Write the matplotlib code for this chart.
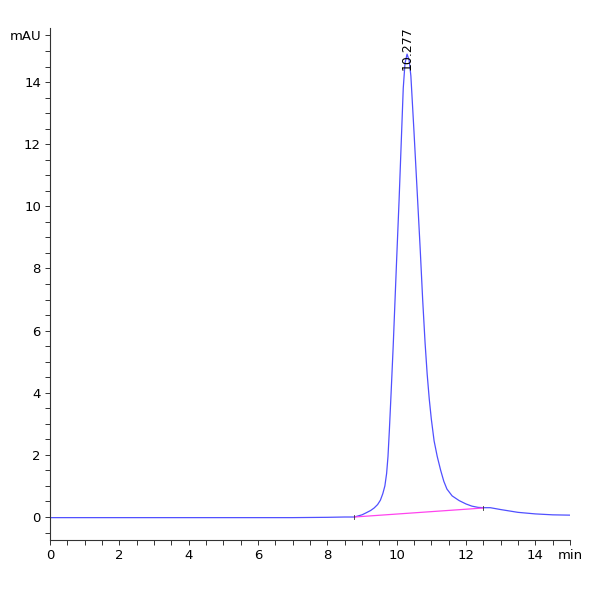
import matplotlib.pyplot as plt
from matplotlib.ticker import MultipleLocator

# chromatogram trace (min, mAU)
time = [0.0, 1.0, 2.0, 3.0, 4.0, 5.0, 6.0, 7.0, 8.0, 8.5, 8.78, 9.0, 9.11,
        9.25, 9.35, 9.45, 9.53, 9.6, 9.66, 9.71, 9.75, 9.79, 9.84, 9.9, 9.95,
        10.0, 10.07, 10.13, 10.19, 10.24, 10.3, 10.36, 10.41, 10.5, 10.6,
        10.68, 10.75, 10.82, 10.88, 10.94, 11.0, 11.08, 11.17, 11.27, 11.36,
        11.45, 11.6, 11.8, 12.0, 12.17, 12.35, 12.5, 12.7, 13.0, 13.5, 14.0,
        14.5, 15.0]
signal = [-0.02, -0.02, -0.02, -0.02, -0.02, -0.02, -0.02, -0.02, -0.01, 0.0,
          0.0, 0.07, 0.13, 0.21, 0.29, 0.4, 0.54, 0.75, 1.0, 1.4, 1.95, 2.8,
          4.0, 5.5, 6.9, 8.3, 10.2, 12.0, 13.8, 14.6, 14.9, 14.7, 14.2, 12.4,
          10.3, 8.6, 7.0, 5.6, 4.6, 3.8, 3.15, 2.45, 1.95, 1.5, 1.15, 0.9,
          0.68, 0.53, 0.42, 0.35, 0.31, 0.3, 0.3, 0.24, 0.15, 0.1, 0.07, 0.06]

# integration baseline
base_t = [8.78, 12.5]
base_y = [0.0, 0.29]

peak_rt = 10.277
label_y = 15.1

plt.rcParams['font.family'] = ['DejaVu Sans']

fig = plt.figure(figsize=(6, 6), dpi=100)
ax = fig.add_axes([0.0833, 0.1, 0.8667, 0.8533])

ax.plot(time, signal, color='#5050ff', lw=0.9)
ax.plot(base_t, base_y, color='#ff44ee', lw=0.9)
for bt, by in zip(base_t, base_y):
    ax.plot([bt, bt], [by - 0.08, by + 0.08], color='#333333', lw=0.6)

ax.text(peak_rt + 0.02, label_y, '%.3f' % peak_rt, rotation=90,
        ha='center', va='center', fontsize=9)

ax.set_xlim(0, 15.0)
ax.set_ylim(-0.74, 15.74)
ax.xaxis.set_minor_locator(MultipleLocator(0.5))
ax.yaxis.set_minor_locator(MultipleLocator(0.5))
ax.set_xticks(list(range(0, 15, 2)) + [15])
ax.set_xticklabels([str(v) for v in range(0, 15, 2)] + ['min'])
ax.set_yticks(list(range(0, 15, 2)) + [15.5])
ax.set_yticklabels([str(v) for v in range(0, 15, 2)] + ['mAU'])

for s in ['top', 'right']:
    ax.spines[s].set_visible(False)
for s in ['left', 'bottom']:
    ax.spines[s].set_color('#333333')
    ax.spines[s].set_linewidth(0.8)

ax.tick_params(which='both', direction='out', length=3.5, width=0.7,
               color='#333333', labelsize=9.5, pad=3)

fig.savefig('out.png', dpi=100)
